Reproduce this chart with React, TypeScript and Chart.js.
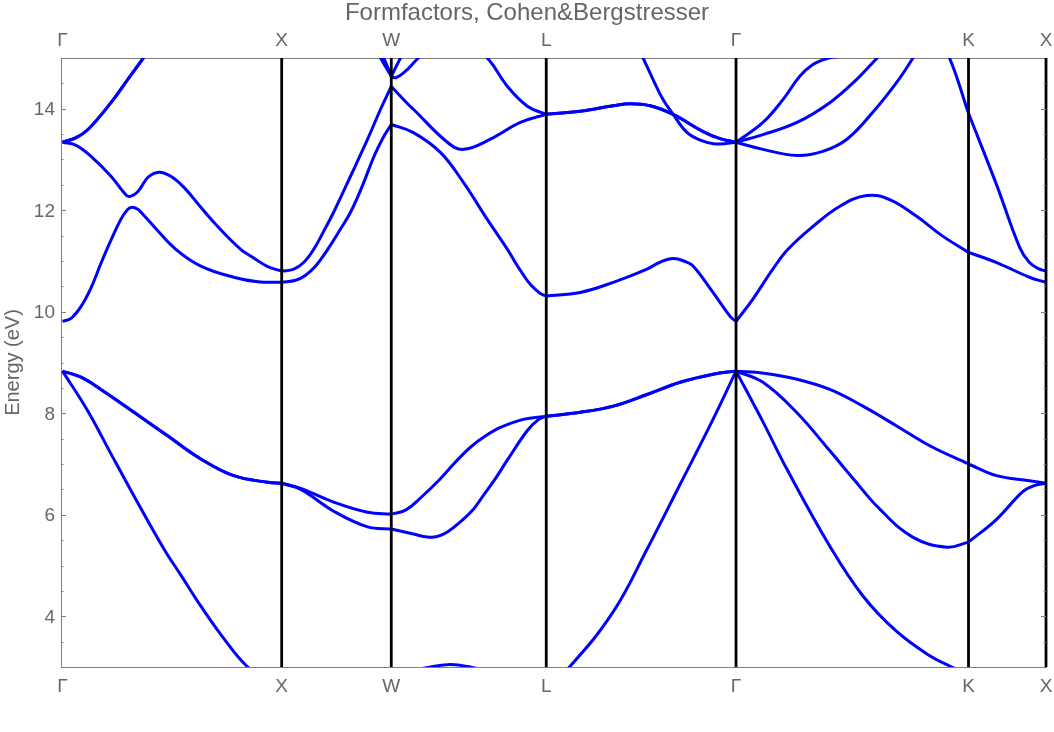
import React, { useEffect, useRef } from 'react';
import { Chart, registerables } from 'chart.js';

Chart.register(...registerables);

// High-symmetry points along the k-path (path length, units of 2π/a)
const kG0 = 0;
const kX = 1;
const kW = 1.5;
const kL = 2.2071;
const kG = 3.0731;
const kK = 4.1338;
const kX2 = 4.4874;

const symmetryPoints = [kG0, kX, kW, kL, kG, kK, kX2];
const symmetryLabels = ['Γ', 'X', 'W', 'L', 'Γ', 'K', 'X'];
const energyTicks = [4, 6, 8, 10, 12, 14];
const energyMin = 3;
const energyMax = 15;

type Pt = [number, number];

// Bands: [k, E (eV)]
const bandV2: Pt[] = [
  [kG0, 8.83], [0.116, 8.04], [0.221, 7.2], [0.326, 6.37], [0.462, 5.33], [0.54, 4.81], [0.631, 4.2], [0.731, 3.59], [0.845, 3.0], [0.93, 2.78], [kX, 2.72],
  [1.25, 2.76], [kW, 2.8],
  [1.6, 2.93], [1.68, 3.0], [1.77, 3.05], [1.86, 3.0], [1.95, 2.9], [2.08, 2.72], [kL, 2.62],
  [2.317, 3.02], [2.513, 4.09], [2.667, 5.32], [2.818, 6.6], [2.968, 7.88], [kG, 8.83],
  [3.196, 7.83], [3.305, 6.9], [3.501, 5.38], [3.652, 4.4], [3.806, 3.7], [3.957, 3.22], [4.048, 3.02], [kK, 2.86],
  [4.3, 2.76], [kX2, 2.72],
];

const bandV3: Pt[] = [
  [kG0, 8.83], [0.084, 8.71], [0.175, 8.47], [0.326, 8.02], [0.481, 7.55], [0.631, 7.1], [0.781, 6.77], [0.936, 6.64], [kX, 6.62],
  [1.087, 6.5], [1.237, 6.07], [1.392, 5.76], [kW, 5.72],
  [1.601, 5.62], [1.665, 5.56], [1.71, 5.57], [1.756, 5.66], [1.815, 5.86], [1.875, 6.11], [1.907, 6.3], [1.975, 6.71], [2.03, 7.08], [2.121, 7.66], [2.17, 7.87], [kL, 7.94],
  [2.362, 8.02], [2.513, 8.14], [2.667, 8.37], [2.818, 8.61], [2.968, 8.77], [kG, 8.83],
  [3.196, 8.61], [3.351, 8.01], [3.501, 7.26], [3.606, 6.72], [3.729, 6.11], [3.879, 5.56], [4.035, 5.36], [kK, 5.46],
  [4.262, 5.91], [4.38, 6.45], [4.43, 6.57], [kX2, 6.62],
];

const bandV4: Pt[] = [
  [kG0, 8.83], [0.084, 8.71], [0.175, 8.47], [0.326, 8.02], [0.481, 7.55], [0.631, 7.1], [0.781, 6.77], [0.936, 6.64], [kX, 6.62],
  [1.087, 6.52], [1.237, 6.25], [1.392, 6.05], [kW, 6.01],
  [1.565, 6.09], [1.633, 6.33], [1.724, 6.71], [1.793, 7.04], [1.861, 7.33], [1.929, 7.55], [1.998, 7.72], [2.102, 7.88], [kL, 7.94],
  [2.362, 8.02], [2.513, 8.14], [2.667, 8.37], [2.818, 8.61], [2.968, 8.77], [kG, 8.83],
  [3.2, 8.79], [3.351, 8.67], [3.501, 8.47], [3.652, 8.14], [3.806, 7.75], [3.957, 7.36], [kK, 7.0],
  [4.262, 6.77], [4.412, 6.67], [kX2, 6.62],
];

const bandC5: Pt[] = [
  [kG0, 9.81], [0.039, 9.87], [0.084, 10.1], [0.13, 10.47], [0.175, 10.95], [0.221, 11.41], [0.266, 11.82], [0.298, 12.02], [0.317, 12.06], [0.344, 12.02], [0.358, 11.96], [0.417, 11.68], [0.517, 11.23], [0.631, 10.9], [0.781, 10.68], [0.891, 10.59], [kX, 10.58],
  [1.064, 10.62], [1.109, 10.72], [1.155, 10.9], [1.21, 11.23], [1.264, 11.6], [1.314, 11.96], [1.369, 12.49], [1.419, 13.04], [1.46, 13.41], [kW, 13.69],
  [1.601, 13.53], [1.724, 13.14], [1.829, 12.55], [1.938, 11.82], [2.03, 11.23], [2.066, 10.97], [2.102, 10.73], [2.134, 10.54], [2.166, 10.41], [2.184, 10.35], [kL, 10.31],
  [2.362, 10.38], [2.513, 10.58], [2.667, 10.84], [2.727, 10.98], [2.786, 11.05], [2.841, 10.99], [2.877, 10.9], [2.968, 10.38], [3.046, 9.91], [kG, 9.81],
  [3.15, 10.25], [3.241, 10.84], [3.31, 11.23], [3.424, 11.68], [3.547, 12.08], [3.67, 12.29], [3.774, 12.21], [3.897, 11.88], [4.016, 11.49], [kK, 11.17],
  [4.262, 10.97], [4.412, 10.68], [kX2, 10.58],
];

const bandC6: Pt[] = [
  [kG0, 13.34], [0.062, 13.28], [0.13, 13.06], [0.221, 12.67], [0.28, 12.35], [0.303, 12.27], [0.344, 12.37], [0.39, 12.65], [0.44, 12.75], [0.494, 12.67], [0.554, 12.45], [0.631, 12.06], [0.708, 11.68], [0.813, 11.23], [0.872, 11.06], [0.936, 10.89], [kX, 10.8],
  [1.055, 10.84], [1.1, 10.97], [1.146, 11.23], [1.191, 11.58], [1.237, 11.96], [1.314, 12.67], [1.392, 13.4], [1.451, 13.99], [kW, 14.44],
  [1.579, 14.08], [1.601, 13.99], [1.756, 13.34], [1.829, 13.2], [1.952, 13.4], [2.089, 13.73], [kL, 13.89],
  [2.362, 13.95], [2.513, 14.06], [2.59, 14.1], [2.681, 14.06], [2.786, 13.89], [2.923, 13.55], [3.0, 13.41], [kG, 13.34],
  [3.196, 13.2], [3.351, 13.08], [3.469, 13.16], [3.579, 13.4], [3.697, 13.93], [3.806, 14.52], [3.879, 14.99], [3.97, 15.6], [4.048, 14.99], [kK, 13.91],
  [4.262, 12.5], [4.367, 11.27], [4.412, 10.97], [4.453, 10.85], [kX2, 10.8],
];

const bandC7: Pt[] = [
  [kG0, 13.34], [0.062, 13.43], [0.116, 13.59], [0.221, 14.12], [0.298, 14.58], [0.367, 14.99], [0.5, 15.8], [0.75, 16.8], [kX, 17.1],
  [1.25, 16.5], [1.451, 15.0], [kW, 14.64],
  [1.52, 14.61], [1.56, 14.72], [1.624, 15.0], [1.78, 15.6], [1.938, 15.0], [2.03, 14.44], [2.121, 14.05], [kL, 13.89],
  [2.362, 13.95], [2.513, 14.06], [2.59, 14.1], [2.681, 14.06], [2.786, 13.89], [2.923, 13.55], [3.0, 13.41], [kG, 13.34],
  [3.196, 13.49], [3.351, 13.73], [3.501, 14.12], [3.624, 14.58], [3.715, 14.99], [3.9, 15.8], [kK, 16.5],
  [4.3, 16.7], [kX2, 16.8],
];

const bandC8: Pt[] = [
  [kG0, 13.34], [0.062, 13.43], [0.116, 13.59], [0.221, 14.12], [0.298, 14.58], [0.367, 14.99], [0.5, 15.8], [0.75, 16.9], [kX, 17.3],
  [1.25, 16.7], [1.465, 15.0], [kW, 14.64],
  [1.542, 15.0], [1.7, 16.3], [1.95, 16.9], [kL, 16.8],
  [2.45, 16.5], [2.55, 15.9], [2.649, 15.0], [2.694, 14.58], [2.74, 14.18], [2.786, 13.89], [2.85, 13.53], [2.923, 13.36], [2.97, 13.31], [3.02, 13.31], [kG, 13.34],
  [3.196, 13.73], [3.287, 14.18], [3.364, 14.64], [3.424, 14.87], [3.488, 14.99], [3.56, 15.05], [3.7, 15.3], [3.9, 15.6], [kK, 15.9],
  [4.3, 16.0], [kX2, 16.1],
];

const bands = [bandV2, bandV3, bandV4, bandC5, bandC6, bandC7, bandC8];

const FONT = "'Liberation Sans', Arial, Helvetica, sans-serif";
const TEXT = '#666666';
const FRAME = '#7f7f7f';
const BLUE = '#0000ff';

function splitSegments(band: Pt[]): Pt[][] {
  const segs: Pt[][] = [];
  for (let s = 0; s < symmetryPoints.length - 1; s++) {
    const a = symmetryPoints[s];
    const b = symmetryPoints[s + 1];
    const seg = band.filter(([k]) => k >= a - 1e-9 && k <= b + 1e-9);
    if (seg.length >= 2) segs.push(seg);
  }
  return segs;
}

const frameTicks = {
  id: 'frameTicks',
  afterDatasetsDraw(chart: any) {
    const { ctx, chartArea, scales } = chart;
    const ys = scales.y;
    ctx.save();
    ctx.strokeStyle = FRAME;
    ctx.lineWidth = 1;
    for (let i = 1; i < (energyMax - energyMin) * 2; i++) {
      const v = energyMin + i * 0.5;
      const y = Math.round(ys.getPixelForValue(v)) + 0.5;
      const len = energyTicks.includes(v) ? 5 : 2.5;
      ctx.beginPath();
      ctx.moveTo(chartArea.left, y);
      ctx.lineTo(chartArea.left + len, y);
      ctx.moveTo(chartArea.right, y);
      ctx.lineTo(chartArea.right - len, y);
      ctx.stroke();
    }
    ctx.restore();
  },
};

export default function App() {
  const ref = useRef<HTMLCanvasElement | null>(null);

  useEffect(() => {
    if (!ref.current) return;
    const datasets: any[] = [];
    symmetryPoints.slice(1).forEach((k) => {
      datasets.push({
        data: [{ x: k, y: energyMin }, { x: k, y: energyMax }],
        borderColor: '#000000',
        borderWidth: 2.8,
        pointRadius: 0,
        fill: false,
        clip: false,
        order: 0,
      });
    });
    bands.forEach((band) => {
      splitSegments(band).forEach((seg) => {
        datasets.push({
          data: seg.map(([x, y]) => ({ x, y })),
          borderColor: BLUE,
          borderWidth: 3,
          pointRadius: 0,
          fill: false,
          tension: 0.4,
          borderJoinStyle: 'round',
          order: 1,
        });
      });
    });

    const xTicks = {
      autoSkip: false,
      maxRotation: 0,
      minRotation: 0,
      color: TEXT,
      font: { family: FONT, size: 19 },
      callback: (_v: any, i: number) => symmetryLabels[i],
    };

    const chart = new Chart(ref.current, {
      type: 'line',
      data: { datasets },
      options: {
        responsive: false,
        animation: false,
        devicePixelRatio: 1,
        layout: { padding: 0 },
        elements: { line: { capBezierPoints: false } },
        plugins: {
          legend: { display: false },
          tooltip: { enabled: false },
          title: {
            display: true,
            text: 'Formfactors, Cohen&Bergstresser',
            color: TEXT,
            font: { family: FONT, size: 24, weight: 'normal', lineHeight: 1.1 },
            padding: { top: 0, bottom: 0 },
          },
        },
        scales: {
          x: {
            type: 'linear',
            position: 'bottom',
            min: -0.007,
            max: kX2,
            grid: { display: false, drawTicks: false },
            border: { display: true, color: FRAME, width: 1 },
            afterBuildTicks: (s: any) => { s.ticks = symmetryPoints.map((v) => ({ value: v })); },
            ticks: { ...xTicks, padding: 8 },
            afterFit: (s: any) => { s.height = 65; s.paddingLeft = 0; s.paddingRight = 0; },
          },
          x2: {
            type: 'linear',
            position: 'top',
            min: -0.007,
            max: kX2,
            grid: { display: false, drawTicks: false },
            border: { display: true, color: FRAME, width: 1 },
            afterBuildTicks: (s: any) => { s.ticks = symmetryPoints.map((v) => ({ value: v })); },
            ticks: { ...xTicks, padding: 6 },
            afterFit: (s: any) => { s.height = 58 - 26.4; s.paddingLeft = 0; s.paddingRight = 0; },
          },
          y: {
            type: 'linear',
            position: 'left',
            min: energyMin,
            max: energyMax,
            grid: { display: false, drawTicks: false },
            border: { display: true, color: FRAME, width: 1 },
            afterBuildTicks: (s: any) => { s.ticks = energyTicks.map((v) => ({ value: v })); },
            ticks: {
              color: TEXT,
              font: { family: FONT, size: 19 },
              padding: 6,
              labelOffset: 1.5,
              callback: (v: any) => String(v),
            },
            title: {
              display: true,
              text: 'Energy (eV)',
              color: TEXT,
              font: { family: FONT, size: 20 },
              padding: { top: 1, bottom: 0 },
            },
            afterFit: (s: any) => { s.width = 61; s.paddingTop = 0; s.paddingBottom = 0; },
          },
          y2: {
            type: 'linear',
            position: 'right',
            min: energyMin,
            max: energyMax,
            grid: { display: false, drawTicks: false },
            border: { display: true, color: FRAME, width: 1 },
            ticks: { display: false },
            afterFit: (s: any) => { s.width = 8; s.paddingTop = 0; s.paddingBottom = 0; },
          },
        },
      } as any,
      plugins: [frameTicks],
    });
    return () => chart.destroy();
  }, []);

  return (
    <div style={{ position: 'absolute', left: 0, top: 0, width: 1054, height: 732, background: '#fff' }}>
      <canvas ref={ref} width={1054} height={732} style={{ display: 'block' }} />
    </div>
  );
}
